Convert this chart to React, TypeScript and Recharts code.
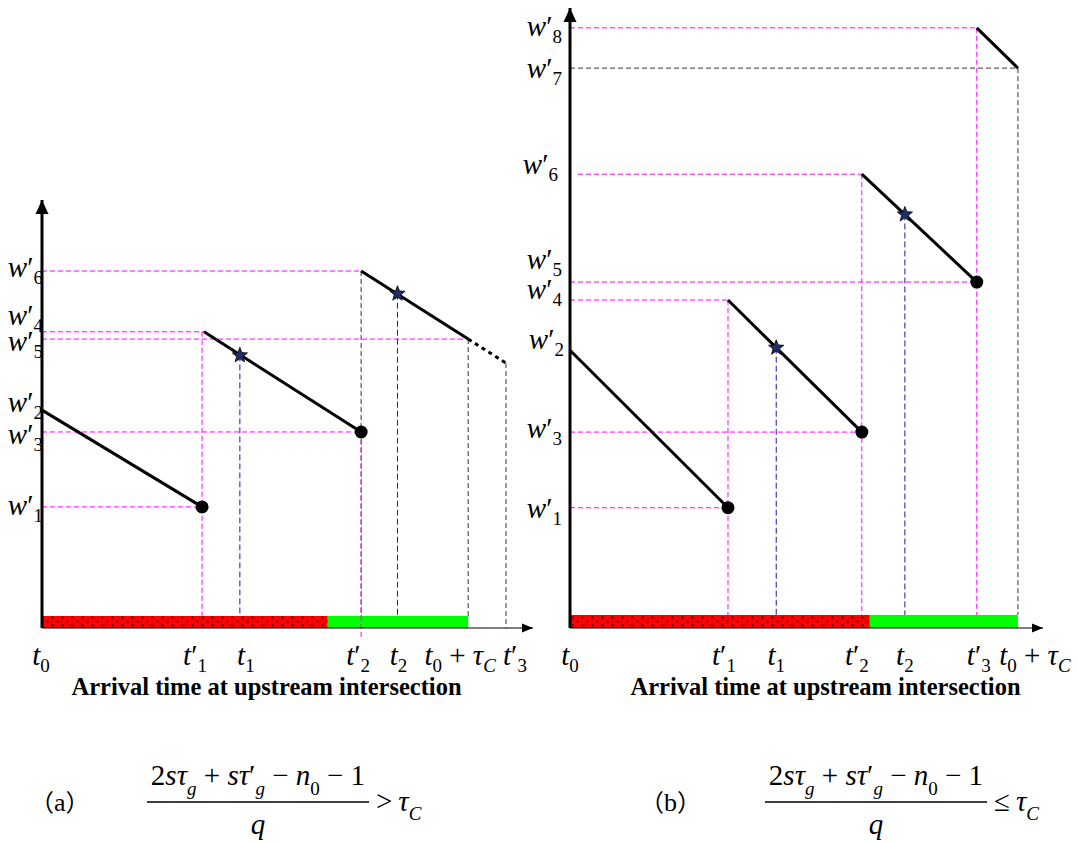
import { ComposedChart, Line, Scatter, XAxis, YAxis, ReferenceLine, ReferenceArea, Label } from 'recharts';

const SERIF = '"Liberation Serif", "Times New Roman", serif';
const CJK = '"Noto Sans CJK SC", sans-serif';
const FS = 29;
const SFS = 19;

// ---------- panel (a) ----------
const wIdxA = [1, 2, 3, 4, 5, 6];
const wValA = [28.3, 50.9, 45.8, 69.2, 67.5, 83.4];
const tKeysA = ['t0', 't1p', 't1', 't2p', 't2', 't0C', 't3p'];
const tValA = [0, 32.6, 40.3, 65.0, 72.4, 86.8, 94.5];
const redA = [0, 58.2];
const greenA = [58.2, 86.8];
const seg1A = [{ x: 0, y: 50.9 }, { x: 32.6, y: 28.3 }];
const seg2A = [{ x: 33.0, y: 69.2 }, { x: 65.0, y: 45.8 }];
const seg3A = [{ x: 65.0, y: 83.4 }, { x: 86.8, y: 67.5 }];
const seg3ExtA = [{ x: 86.8, y: 67.5 }, { x: 94.5, y: 61.9 }];
const dotsA = [{ x: 32.6, y: 28.3 }, { x: 65.0, y: 45.8 }];
const starsA = [{ x: 40.3, y: 63.7 }, { x: 72.4, y: 78.1 }];
const hGuidesA = [
  { y: 83.4, from: 0, to: 65.0, kind: 'm' },
  { y: 69.2, from: 0, to: 33.0, kind: 'm' },
  { y: 67.5, from: 0, to: 86.8, kind: 'm' },
  { y: 45.8, from: 0, to: 65.0, kind: 'm' },
  { y: 28.3, from: 0, to: 32.6, kind: 'm' },
];
const vGuidesA = [
  { x: 32.6, from: 69.2, to: 2.8, kind: 'm' },
  { x: 40.3, from: 63.7, to: 2.8, kind: 'b' },
  { x: 65.0, from: 83.4, to: 2.8, kind: 'k' },
  { x: 72.4, from: 78.1, to: 2.8, kind: 'b' },
  { x: 86.8, from: 67.5, to: 2.8, kind: 'k' },
  { x: 94.5, from: 61.9, to: 0, kind: 'k' },
];
const overGuidesA = [{ x: 65.0, from: 45.8, to: -2.8, kind: 'm' }];
const barTopA = 2.8;

// ---------- panel (b) ----------
const wIdxB = [1, 2, 3, 4, 5, 6, 7, 8];
const wValB = [19.4, 44.8, 31.6, 52.9, 55.8, 73.2, 90.3, 96.8];
const tKeysB = ['t0', 't1p', 't1', 't2p', 't2', 't3p', 't0C'];
const tValB = [0, 33.4, 43.6, 61.7, 70.8, 86.0, 94.7];
const redB = [0, 63.4];
const greenB = [63.4, 94.7];
const seg1B = [{ x: 0, y: 44.8 }, { x: 33.4, y: 19.4 }];
const seg2B = [{ x: 33.4, y: 52.9 }, { x: 61.7, y: 31.6 }];
const seg3B = [{ x: 61.7, y: 73.2 }, { x: 86.0, y: 55.8 }];
const seg4B = [{ x: 86.0, y: 96.8 }, { x: 94.7, y: 90.3 }];
const dotsB = [{ x: 33.4, y: 19.4 }, { x: 61.7, y: 31.6 }, { x: 86.0, y: 55.8 }];
const starsB = [{ x: 43.6, y: 45.2 }, { x: 70.8, y: 66.7 }];
const hGuidesB = [
  { y: 96.8, from: 0, to: 86.0, kind: 'm' },
  { y: 90.3, from: 0, to: 94.7, kind: 'k' },
  { y: 73.2, from: 1.7, to: 61.7, kind: 'm' },
  { y: 55.8, from: 0, to: 86.0, kind: 'm' },
  { y: 52.9, from: 0, to: 33.4, kind: 'm' },
  { y: 31.6, from: 0, to: 61.7, kind: 'm' },
  { y: 19.4, from: 0, to: 33.4, kind: 'm' },
];
const vGuidesB = [
  { x: 33.4, from: 52.9, to: 2.1, kind: 'm' },
  { x: 43.6, from: 45.2, to: 2.1, kind: 'b' },
  { x: 61.7, from: 73.2, to: 2.1, kind: 'm' },
  { x: 70.8, from: 66.7, to: 2.1, kind: 'b' },
  { x: 86.0, from: 96.8, to: 2.1, kind: 'm' },
  { x: 94.7, from: 90.3, to: 2.1, kind: 'k' },
];
const barTopB = 2.1;

// axis ends (arrow heads)
const yArrow = [{ x: 0, y: 100 }];
const xArrow = [{ x: 100, y: 0 }];

// label placement tweaks: [dx, baseline dy]
const yPlaceA: Record<number, number[]> = { 1: [1, 8], 2: [1, 2], 3: [1, 12], 4: [1, -7], 5: [1, 12], 6: [1, 6] };
const yPlaceB: Record<number, number[]> = { 1: [-8, 10], 2: [-6, -1], 3: [-8, 6], 4: [-8, -1], 5: [-8, -13], 6: [-12, 0], 7: [-8, 10], 8: [-8, 8] };
const xPlaceA: Record<string, number> = { t0: -1, t1p: -7, t1: 6, t2p: -3, t2: 1, t0C: -8, t3p: 9 };
const xPlaceB: Record<string, number> = { t0: 0, t1p: -4, t1: 0, t2p: -5, t2: 0, t3p: 2, t0C: 17 };

const guideStyle: Record<string, { stroke: string; dash: string }> = {
  m: { stroke: '#ff00ff', dash: '5 3' },
  k: { stroke: '#333333', dash: '5 3' },
  b: { stroke: '#1a1aa6', dash: '6 3' },
};

function Sym({ base, sub, prime, x, y, anchor }: any) {
  return (
    <text x={x} y={y} fontFamily={SERIF} fontSize={FS} textAnchor={anchor} fill="#000">
      <tspan fontStyle="italic">{base}</tspan>
      {prime && <tspan>′</tspan>}
      <tspan fontSize={SFS} dy={7}>{sub}</tspan>
    </text>
  );
}

function TLabel({ k, x, y }: any) {
  if (k === 't0C') {
    return (
      <text x={x} y={y} fontFamily={SERIF} fontSize={FS} textAnchor="middle" fill="#000">
        <tspan fontStyle="italic">t</tspan>
        <tspan fontSize={SFS} dy={7}>0</tspan>
        <tspan dy={-7}> + </tspan>
        <tspan fontStyle="italic">τ</tspan>
        <tspan fontStyle="italic" fontSize={SFS} dy={7}>C</tspan>
      </text>
    );
  }
  const prime = k.endsWith('p');
  return <Sym base="t" sub={k.charAt(1)} prime={prime} x={x} y={y} anchor="middle" />;
}

const yTick = (vals: number[], idx: number[], place: Record<number, number[]>) => (p: any) => {
  const i = vals.indexOf(p.payload.value);
  const n = idx[i];
  const [dx, dy] = place[n];
  return <Sym base="w" sub={String(n)} prime x={p.x + dx} y={p.y + dy} anchor="end" />;
};

const xTick = (vals: number[], keys: string[], place: Record<string, number>) => (p: any) => {
  const k = keys[vals.indexOf(p.payload.value)];
  return <TLabel k={k} x={p.x + place[k]} y={p.y + 37} />;
};

const title = (dx: number) => (p: any) => {
  const vb = p.viewBox;
  return (
    <text x={vb.x + vb.width / 2 + dx} y={vb.y + 67} textAnchor="middle" fontFamily={SERIF} fontWeight="bold" fontSize={24.5} fill="#000">
      Arrival time at upstream intersection
    </text>
  );
};

function starPts(cx: number, cy: number, R: number, r: number) {
  const pts: string[] = [];
  for (let i = 0; i < 10; i++) {
    const a = -Math.PI / 2 + (i * Math.PI) / 5;
    const rad = i % 2 === 0 ? R : r;
    pts.push(`${cx + rad * Math.cos(a)},${cy + rad * Math.sin(a)}`);
  }
  return pts.join(' ');
}

const StarShape = (p: any) => <polygon points={starPts(p.cx, p.cy, 8, 3.4)} fill="#1c2f66" stroke="#000" strokeWidth={0.8} />;
const DotShape = (p: any) => <circle cx={p.cx} cy={p.cy} r={6.5} fill="#000" />;
const UpArrow = (p: any) => <polygon points={`${p.cx},${p.cy} ${p.cx - 6.5},${p.cy + 14} ${p.cx + 6.5},${p.cy + 14}`} fill="#000" />;
const RightArrow = (p: any) => <polygon points={`${p.cx},${p.cy} ${p.cx - 11},${p.cy - 4.5} ${p.cx - 11},${p.cy + 4.5}`} fill="#000" />;

function guides(list: any[], dir: 'h' | 'v', key: string) {
  return list.map((g, i) => {
    const s = guideStyle[g.kind];
    const seg = dir === 'h'
      ? [{ x: g.from, y: g.y }, { x: g.to, y: g.y }]
      : [{ x: g.x, y: g.from }, { x: g.x, y: g.to }];
    return (
      <ReferenceLine key={`${key}${i}`} segment={seg as any} stroke={s.stroke} strokeWidth={1} strokeDasharray={s.dash} ifOverflow="visible" />
    );
  });
}

function Seg({ data, dashed }: any) {
  return (
    <Line data={data} dataKey="y" type="linear" stroke="#000" strokeWidth={3} dot={false} activeDot={false}
      strokeDasharray={dashed ? '4 4' : undefined} isAnimationActive={false} />
  );
}

function Panel(props: any) {
  const { w, h, yw, margin, wVals, wIdx, yPlace, tVals, tKeys, xPlace, red, green, barTop, segs, ext, dots, stars, hG, vG, overG, titleDx } = props;
  return (
    <ComposedChart width={w} height={h} margin={margin}>
      <XAxis type="number" dataKey="x" domain={[0, 100]} ticks={tVals} interval={0} height={82}
        tickLine={false} tickSize={0} tickMargin={0} axisLine={{ stroke: '#000', strokeWidth: 1 }}
        tick={xTick(tVals, tKeys, xPlace)} label={<Label content={title(titleDx)} />} />
      <YAxis type="number" dataKey="y" domain={[0, 100]} ticks={wVals} interval={0} width={yw}
        tickLine={false} tickSize={0} tickMargin={0} axisLine={{ stroke: '#000', strokeWidth: 3 }}
        tick={yTick(wVals, wIdx, yPlace)} />
      {guides(hG, 'h', 'h')}
      {guides(vG, 'v', 'v')}
      <ReferenceArea x1={red[0]} x2={red[1]} y1={0} y2={barTop} fill="url(#redDots)" fillOpacity={1} stroke="none" ifOverflow="visible" />
      <ReferenceArea x1={green[0]} x2={green[1]} y1={0} y2={barTop} fill="#00ff00" fillOpacity={1} stroke="none" ifOverflow="visible" />
      {guides(overG, 'v', 'o')}
      {segs.map((s: any, i: number) => <Seg key={`s${i}`} data={s} />)}
      {ext && <Seg data={ext} dashed />}
      <Scatter data={dots} shape={DotShape} isAnimationActive={false} />
      <Scatter data={stars} shape={StarShape} isAnimationActive={false} />
      <Scatter data={yArrow} shape={UpArrow} isAnimationActive={false} />
      <Scatter data={xArrow} shape={RightArrow} isAnimationActive={false} />
    </ComposedChart>
  );
}

function Formula({ cx, x0, x1, rel }: any) {
  return (
    <g fontFamily={SERIF} fill="#000">
      <text x={cx} y={785} fontSize={FS} textAnchor="middle">
        <tspan>2</tspan>
        <tspan fontStyle="italic">sτ</tspan>
        <tspan fontStyle="italic" fontSize={SFS} dy={10}>g</tspan>
        <tspan dy={-10}> + </tspan>
        <tspan fontStyle="italic">sτ</tspan>
        <tspan>′</tspan>
        <tspan fontStyle="italic" fontSize={SFS} dy={10}>g</tspan>
        <tspan dy={-10}> − </tspan>
        <tspan fontStyle="italic">n</tspan>
        <tspan fontSize={SFS} dy={10}>0</tspan>
        <tspan dy={-10}> − 1</tspan>
      </text>
      <line x1={x0} x2={x1} y1={802} y2={802} stroke="#000" strokeWidth={1.3} />
      <text x={cx} y={834} fontSize={FS} fontStyle="italic" textAnchor="middle">q</text>
      <text x={x1 + 7} y={811} fontSize={FS}>
        {rel}
        <tspan fontStyle="italic" dx={6}>τ</tspan>
        <tspan fontStyle="italic" fontSize={SFS} dy={9}>C</tspan>
      </text>
    </g>
  );
}

function PanelTag({ x, letter }: any) {
  return (
    <text x={x} y={811} fontSize={24} fill="#000">
      <tspan fontFamily={CJK}>（</tspan>
      <tspan fontFamily={SERIF} fontSize={26}>{letter}</tspan>
      <tspan fontFamily={CJK}>）</tspan>
    </text>
  );
}

export default function App() {
  return (
    <div style={{ position: 'absolute', left: 0, top: 0, width: 1078, height: 843, background: '#fff' }}>
      <svg width={0} height={0} style={{ position: 'absolute' }}>
        <defs>
          <pattern id="redDots" patternUnits="userSpaceOnUse" width={10} height={7.6}>
            <rect width={10} height={7.6} fill="#ff0000" />
            <circle cx={2.5} cy={2} r={1.1} fill="#3a0000" />
            <circle cx={7.5} cy={5.8} r={1.1} fill="#3a0000" />
          </pattern>
        </defs>
      </svg>
      <div style={{ position: 'absolute', left: 0, top: 0 }}>
        <Panel w={545} h={710} yw={42} margin={{ top: 200, right: 12, bottom: 0, left: 0 }}
          wVals={wValA} wIdx={wIdxA} yPlace={yPlaceA} tVals={tValA} tKeys={tKeysA} xPlace={xPlaceA}
          red={redA} green={greenA} barTop={barTopA} segs={[seg1A, seg2A, seg3A]} ext={seg3ExtA}
          dots={dotsA} stars={starsA} hG={hGuidesA} vG={vGuidesA} overG={overGuidesA} titleDx={-21} />
      </div>
      <div style={{ position: 'absolute', left: 500, top: 0 }}>
        <Panel w={578} h={710} yw={70} margin={{ top: 8, right: 35, bottom: 0, left: 0 }}
          wVals={wValB} wIdx={wIdxB} yPlace={yPlaceB} tVals={tValB} tKeys={tKeysB} xPlace={xPlaceB}
          red={redB} green={greenB} barTop={barTopB} segs={[seg1B, seg2B, seg3B, seg4B]} ext={null}
          dots={dotsB} stars={starsB} hG={hGuidesB} vG={vGuidesB} overG={[]} titleDx={19} />
      </div>
      <svg width={1078} height={843} style={{ position: 'absolute', left: 0, top: 0, pointerEvents: 'none' }}>
        <PanelTag x={30} letter="a" />
        <Formula cx={258} x0={147} x1={369} rel=">" />
        <PanelTag x={640} letter="b" />
        <Formula cx={876} x0={765} x1={987} rel="≤" />
      </svg>
    </div>
  );
}
